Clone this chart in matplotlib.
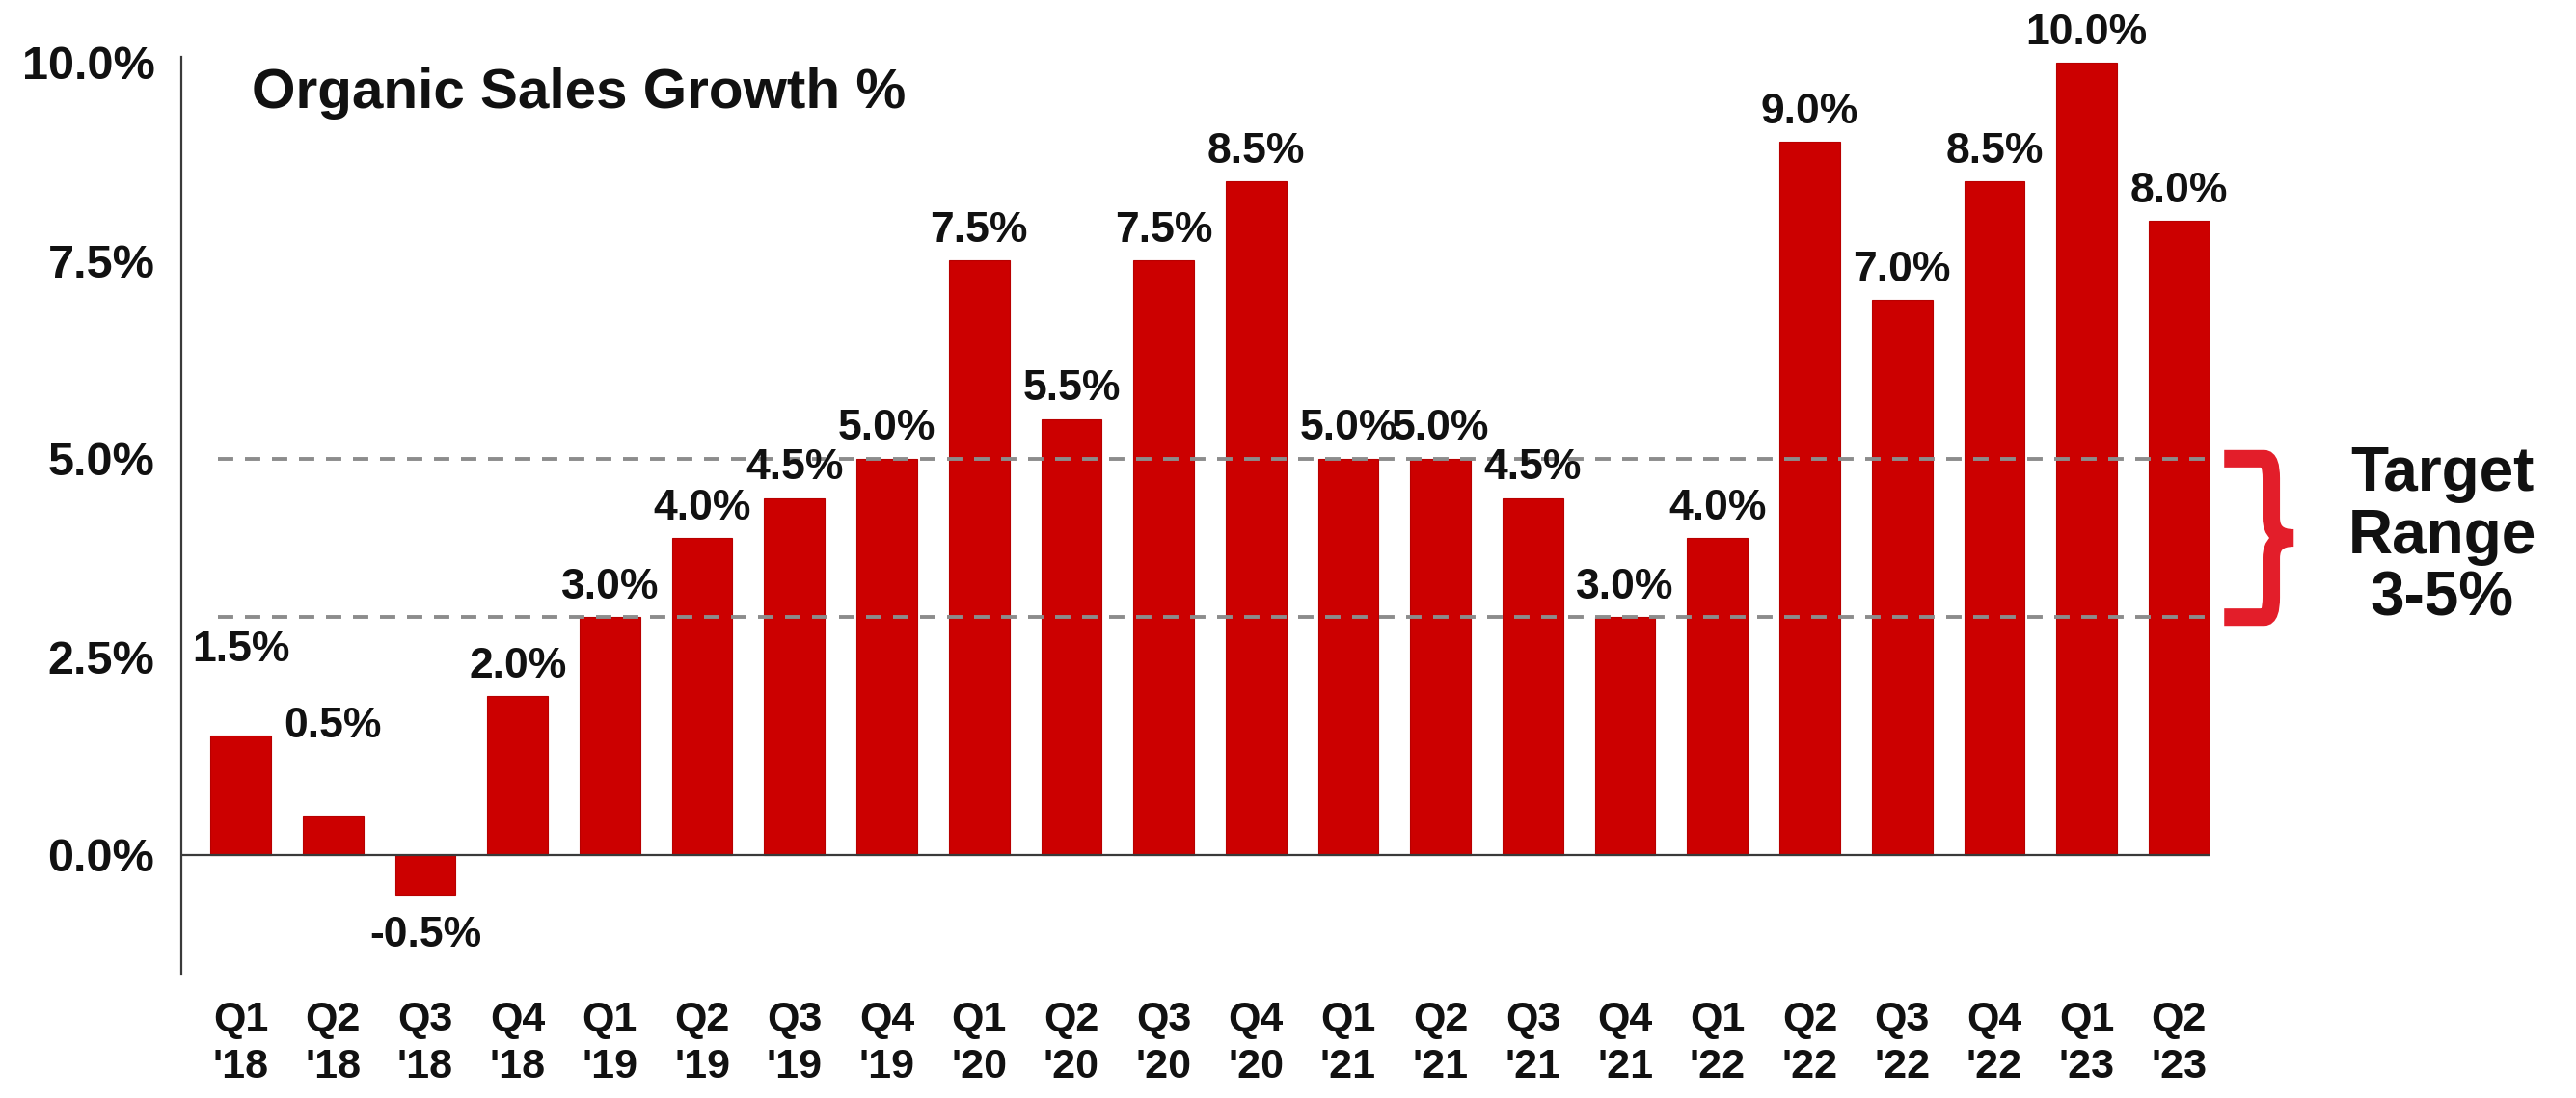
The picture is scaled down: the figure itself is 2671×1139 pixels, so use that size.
import matplotlib
matplotlib.use("Agg")
import matplotlib.pyplot as plt
from matplotlib.path import Path
from matplotlib.patches import PathPatch

plt.rcParams["font.family"] = ["Liberation Sans", "DejaVu Sans"]
plt.rcParams["font.weight"] = "bold"

# quarters and organic sales growth (%)
quarters = ["Q1", "Q2", "Q3", "Q4", "Q1", "Q2", "Q3", "Q4", "Q1", "Q2", "Q3",
            "Q4", "Q1", "Q2", "Q3", "Q4", "Q1", "Q2", "Q3", "Q4", "Q1", "Q2"]
years = ["'18", "'18", "'18", "'18", "'19", "'19", "'19", "'19", "'20", "'20",
         "'20", "'20", "'21", "'21", "'21", "'21", "'22", "'22", "'22", "'22",
         "'23", "'23"]
growth = [1.5, 0.5, -0.5, 2.0, 3.0, 4.0, 4.5, 5.0, 7.5, 5.5, 7.5, 8.5,
          5.0, 5.0, 4.5, 3.0, 4.0, 9.0, 7.0, 8.5, 10.0, 8.0]
target_low, target_high = 3.0, 5.0
yticks = [0.0, 2.5, 5.0, 7.5, 10.0]

BAR = "#cc0000"
BRACE = "#e31e2a"
INK = "#111111"

# extra lift (points) for the first two labels, as in the source slide
LABEL_LIFT = {0: 42, 1: 44}

fig = plt.figure(figsize=(26.71, 11.39), dpi=100, facecolor="white")
ax = fig.add_axes([0.0704, 0.1133, 0.8577 - 0.0704, 0.948 - 0.1133])

x = list(range(len(growth)))
ax.bar(x, growth, width=0.655, color=BAR, edgecolor="#b80000",
       linewidth=0.8, zorder=2)

# target range lines (drawn over the bars)
for lvl in (target_low, target_high):
    ax.plot([-0.25, 21.3], [lvl, lvl], color="#8c8c8c", lw=2.8,
            linestyle=(0, (4.1, 3.1)), zorder=3, solid_capstyle="butt")

ax.axhline(0, color="#3a3a3a", lw=1.6, zorder=4)

for i, v in enumerate(growth):
    lbl = f"{v:.1f}%"
    if v >= 0:
        off = 14 + LABEL_LIFT.get(i, 0)
    else:
        off = -39
    ax.annotate(lbl, (i, v), xytext=(0, off), textcoords="offset points",
                ha="center", va="baseline", fontsize=32, fontweight="bold",
                color=INK, annotation_clip=False, zorder=5)

ax.set_xlim(-0.643, 21.33)
ax.set_ylim(-1.5, 10.07)
ax.set_yticks(yticks)
ax.set_yticklabels([f"{t:.1f}%" for t in yticks])
ax.set_xticks(x)
ax.set_xticklabels([f"{q}\n{y}" for q, y in zip(quarters, years)],
                   linespacing=1.3)
ax.tick_params(axis="y", length=0, pad=20, labelsize=35, labelcolor=INK)
ax.tick_params(axis="x", length=0, pad=20, labelsize=31, labelcolor=INK)
for t in ax.get_xticklabels() + ax.get_yticklabels():
    t.set_fontweight("bold")

for s in ("top", "right", "bottom"):
    ax.spines[s].set_visible(False)
ax.spines["left"].set_color("#3a3a3a")
ax.spines["left"].set_linewidth(1.6)

fig.text(261 / 2671, 1 - 112 / 1139, "Organic Sales Growth %",
         ha="left", va="baseline", fontsize=42, fontweight="bold", color=INK)

# curly brace for the target range
xl, xm, xt = 21.49, 22.0, 22.24
ymid = (target_low + target_high) / 2
verts = [
    (xl, target_high), (xm - 0.08, target_high),
    (xm, target_high), (xm, target_high - 0.25),
    (xm, ymid + 0.25),
    (xm, ymid), (xt, ymid),
    (xm, ymid), (xm, ymid - 0.25),
    (xm, target_low + 0.25),
    (xm, target_low), (xm - 0.08, target_low),
    (xl, target_low),
]
codes = [Path.MOVETO, Path.LINETO,
         Path.CURVE3, Path.CURVE3,
         Path.LINETO,
         Path.CURVE3, Path.CURVE3,
         Path.CURVE3, Path.CURVE3,
         Path.LINETO,
         Path.CURVE3, Path.CURVE3,
         Path.LINETO]
brace = PathPatch(Path(verts, codes), facecolor="none", edgecolor=BRACE,
                  lw=13, capstyle="butt", joinstyle="miter", clip_on=False,
                  zorder=5)
ax.add_patch(brace)

fig.text(2532 / 2671, 1 - 557 / 1139, "Target\nRange\n3-5%", ha="center",
         va="center", fontsize=46, fontweight="bold", color=INK,
         linespacing=1.1)

fig.savefig("out.png", dpi=100, facecolor="white")
